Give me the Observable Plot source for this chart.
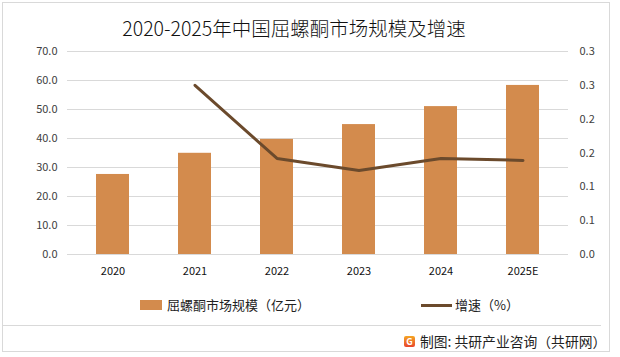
<!DOCTYPE html>
<html>
<head>
<meta charset="utf-8">
<script src="https://cdn.jsdelivr.net/npm/d3@7"></script>
<script src="https://cdn.jsdelivr.net/npm/@observablehq/plot@0.6"></script>
<style>
  html, body { margin: 0; padding: 0; background: #fff; }
  #wrap { position: relative; width: 620px; height: 357px; overflow: hidden; font-family: "Noto Sans CJK SC", "Noto Sans", sans-serif; }
  #border { position: absolute; left: 2px; top: 2px; width: 608px; height: 350px; border: 1px solid #d9d9d9; box-sizing: border-box; }
  #title { position: absolute; left: 0; width: 588px; top: 14px; text-align: center; font-size: 19.5px; font-weight: 300; color: #111; line-height: 28px; }
  #chart { position: absolute; left: 0; top: 0; }
  .leg { position: absolute; font-size: 13px; color: #222; line-height: 16px; }
  #sep { position: absolute; left: 3px; top: 325px; width: 598px; height: 1px; background: #d9d9d9; }
  #src { position: absolute; left: 404px; top: 333px; font-size: 13.8px; color: #222; line-height: 16px; display: flex; align-items: center; }
  #logo { width: 11px; height: 11px; background: linear-gradient(#f5a623, #e8452c); border-radius: 2px; color: #fff; font-size: 9px; font-weight: bold; line-height: 11px; text-align: center; margin-right: 5px; }
</style>
</head>
<body>
<div id="wrap">
  <div id="border"></div>
  <div id="title">2020-2025年中国屈螺酮市场规模及增速</div>
  <div id="chart"></div>
  <div class="leg" style="left:140px; top:297px; display:flex; align-items:center;">
    <span style="display:inline-block; width:22px; height:10px; background:#D38B4D; margin-right:5px;"></span>屈螺酮市场规模（亿元）
  </div>
  <div class="leg" style="left:421px; top:297px; display:flex; align-items:center;">
    <span style="display:inline-block; width:31px; height:3px; background:#6B4A2C; margin-right:3px;"></span>增速（%）
  </div>
  <div id="sep"></div>
  <div id="src"><div id="logo">G</div>制图: 共研产业咨询（共研网）</div>
</div>
<script>
const years = ["2020", "2021", "2022", "2023", "2024", "2025E"];
const marketSize = [27.6, 34.9, 39.7, 44.8, 51.0, 58.3];
const growthYears = ["2021", "2022", "2023", "2024", "2025E"];
const growthRate = [0.25, 0.142, 0.124, 0.142, 0.139];
const leftTicks = [0, 10, 20, 30, 40, 50, 60, 70];
const rightTickValues = [0, 0.05, 0.1, 0.15, 0.2, 0.25, 0.3];
const rightTickLabels = ["0.0", "0.1", "0.1", "0.2", "0.2", "0.3", "0.3"];

const leftMax = 70, rightMax = 0.3;
const toLeft = v => v / rightMax * leftMax;

const bars = years.map((y, i) => ({year: y, value: marketSize[i]}));
const line = growthYears.map((y, i) => ({year: y, g: toLeft(growthRate[i])}));
const rightPos = rightTickValues.map(toLeft);

const plot = Plot.plot({
  width: 620,
  height: 290,
  marginTop: 51,
  marginBottom: 36,
  marginLeft: 67,
  marginRight: 52,
  style: {fontFamily: "'Noto Sans CJK SC', 'Noto Sans', sans-serif", fontSize: "11px", background: "transparent"},
  x: {domain: years, paddingInner: 0.6, paddingOuter: 0.33, label: null},
  y: {domain: [0, leftMax], label: null},
  marks: [
    Plot.ruleY(leftTicks, {stroke: "#d9d9d9", strokeWidth: 1}),
    Plot.barY(bars, {x: "year", y: "value", fill: "#D38B4D"}),
    Plot.line(line, {x: "year", y: "g", stroke: "#6B4A2C", strokeWidth: 3, strokeLinejoin: "round"}),
    Plot.axisY({ticks: leftTicks, tickSize: 0, tickPadding: 10, tickFormat: d => d.toFixed(1), fill: "#404040", label: null}),
    Plot.axisY({anchor: "right", ticks: rightPos, tickSize: 0, tickPadding: 11, tickFormat: (d, i) => rightTickLabels[i], fill: "#404040", label: null}),
    Plot.axisX({tickSize: 0, tickPadding: 13, fill: "#111", label: null})
  ]
});
document.getElementById("chart").appendChild(plot);
</script>
</body>
</html>
